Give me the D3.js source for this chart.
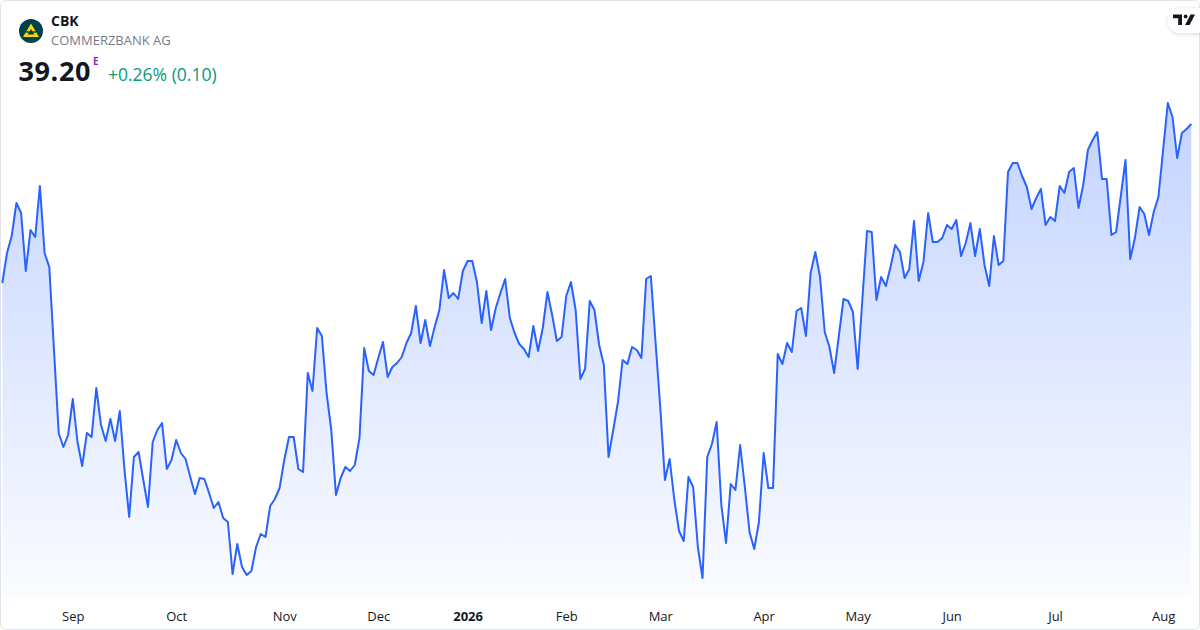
<!DOCTYPE html>
<html>
<head>
<meta charset="utf-8">
<script src="https://cdn.jsdelivr.net/npm/d3@7"></script>
<style>
  html, body { margin: 0; padding: 0; background: #fff; }
  svg { display: block; font-family: "Open Sans", "Noto Sans", sans-serif; }
</style>
</head>
<body>
<svg id="chart" width="1200" height="630"></svg>
<script>
// daily closes, CBK (Xetra), Aug 11 2025 .. Aug 11 2026
const closes = [
  36.02, 36.62, 36.96, 37.62, 37.42, 36.26, 37.08, 36.94, 37.96, 36.62,
  36.34, 34.68, 33.02, 32.74, 32.98, 33.70, 32.84, 32.36, 33.02, 32.94,
  33.92, 33.18, 32.86, 33.30, 32.86, 33.46, 32.28, 31.34, 32.54, 32.64,
  32.08, 31.54, 32.84, 33.08, 33.22, 32.30, 32.48, 32.88, 32.62, 32.50,
  32.14, 31.80, 32.12, 32.10, 31.82, 31.52, 31.64, 31.32, 31.24, 30.20,
  30.80, 30.34, 30.18, 30.26, 30.74, 31.00, 30.94, 31.56, 31.70, 31.92,
  32.48, 32.94, 32.94, 32.30, 32.24, 34.22, 33.86, 35.12, 34.96, 33.82,
  33.08, 31.78, 32.12, 32.34, 32.26, 32.38, 32.92, 34.72, 34.26, 34.18,
  34.52, 34.84, 34.14, 34.34, 34.42, 34.54, 34.82, 35.02, 35.56, 34.82,
  35.28, 34.76, 35.14, 35.48, 36.28, 35.72, 35.82, 35.70, 36.26, 36.46,
  36.46, 36.04, 35.22, 35.86, 35.08, 35.52, 35.82, 36.10, 35.32, 35.02,
  34.80, 34.70, 34.54, 35.16, 34.66, 35.12, 35.84, 35.38, 34.86, 34.94,
  35.76, 36.04, 35.48, 34.10, 34.30, 35.66, 35.48, 34.78, 34.38, 32.54,
  33.08, 33.64, 34.48, 34.40, 34.74, 34.68, 34.52, 36.10, 36.16, 34.84,
  33.54, 32.08, 32.50, 31.68, 31.06, 30.86, 32.14, 31.94, 30.74, 30.12,
  32.54, 32.80, 33.24, 31.58, 30.82, 32.00, 31.88, 32.78, 31.94, 31.04,
  30.70, 31.24, 32.62, 31.92, 31.92, 34.60, 34.40, 34.82, 34.64, 35.46,
  35.52, 34.96, 36.22, 36.64, 36.14, 35.04, 34.74, 34.22, 34.96, 35.70,
  35.66, 35.44, 34.30, 35.68, 37.06, 37.04, 35.68, 36.14, 35.96, 36.34,
  36.78, 36.64, 36.12, 36.30, 37.26, 36.06, 36.44, 37.42, 36.84, 36.84,
  36.92, 37.18, 37.10, 37.28, 36.56, 36.82, 37.22, 36.56, 37.10, 36.38,
  35.96, 36.96, 36.38, 36.46, 38.24, 38.42, 38.42, 38.16, 37.94, 37.50,
  37.72, 37.90, 37.18, 37.34, 37.26, 37.96, 37.82, 38.24, 38.32, 37.52,
  37.98, 38.68, 38.88, 39.04, 38.10, 38.10, 36.98, 37.04, 37.76, 38.48,
  36.50, 36.92, 37.54, 37.40, 36.98, 37.44, 37.74, 38.68, 39.62, 39.34,
  38.52, 39.02, 39.10, 39.20
];

// first trading day of each month (index into closes)
const monthTickIdx = [15, 37, 60, 80, 99, 120, 140, 162, 182, 202, 224, 247];
const monthTickLabels = ['Sep', 'Oct', 'Nov', 'Dec', '2026', 'Feb', 'Mar', 'Apr', 'May', 'Jun', 'Jul', 'Aug'];

const symbol = 'CBK';
const companyName = 'COMMERZBANK AG';
const lastPrice = closes[closes.length - 1];
const prevPrice = closes[closes.length - 2];

const W = 1200, H = 630;
const svg = d3.select('#chart');

// frame
svg.append('rect')
    .attr('x', 0.5).attr('y', 0.5)
    .attr('width', W - 1).attr('height', H - 1)
    .attr('rx', 6)
    .attr('fill', '#fff')
    .attr('stroke', '#e0e3eb');

const x = d3.scaleLinear().domain([0, closes.length - 1]).range([2.3, 1191.3]);
const y = d3.scaleLinear().domain(d3.extent(closes)).range([578, 103]);
const baseY = 598;

const defs = svg.append('defs');
const grad = defs.append('linearGradient')
    .attr('id', 'areaFill')
    .attr('gradientUnits', 'userSpaceOnUse')
    .attr('x1', 0).attr('x2', 0)
    .attr('y1', y.range()[1]).attr('y2', baseY);
grad.append('stop').attr('offset', 0).attr('stop-color', '#2962ff').attr('stop-opacity', 0.28);
grad.append('stop').attr('offset', 1).attr('stop-color', '#2962ff').attr('stop-opacity', 0.02);

const shadow = defs.append('filter').attr('id', 'pillShadow')
    .attr('x', '-50%').attr('y', '-50%').attr('width', '200%').attr('height', '200%');
shadow.append('feDropShadow')
    .attr('dx', 0).attr('dy', 1).attr('stdDeviation', 2)
    .attr('flood-color', '#000').attr('flood-opacity', 0.15);

const area = d3.area()
    .x((d, i) => x(i))
    .y0(baseY)
    .y1(d => y(d));

const line = d3.line()
    .x((d, i) => x(i))
    .y(d => y(d));

svg.append('path')
    .datum(closes)
    .attr('d', area)
    .attr('fill', 'url(#areaFill)');

svg.append('path')
    .datum(closes)
    .attr('d', line)
    .attr('fill', 'none')
    .attr('stroke', '#2962ff')
    .attr('stroke-width', 2)
    .attr('stroke-linejoin', 'round');

// month axis
const xAxis = d3.axisBottom(x)
    .tickValues(monthTickIdx)
    .tickFormat((d, i) => monthTickLabels[i])
    .tickSize(0)
    .tickPadding(0);

const axisG = svg.append('g')
    .attr('transform', 'translate(0,612)')
    .call(xAxis);
axisG.select('.domain').remove();
axisG.selectAll('text')
    .attr('font-family', '"Open Sans", "Noto Sans", sans-serif')
    .attr('font-size', 13)
    .attr('fill', '#131722')
    .attr('dy', '0.71em')
    .attr('font-weight', d => d === 99 ? 700 : 400);

// header
const logo = svg.append('g').attr('transform', 'translate(31,31)');
logo.append('circle').attr('r', 12).attr('fill', '#00414b');
logo.append('path')
    .attr('d', 'M0,-7.5 L8,6 L-8,6 Z M0,-2 L-3.4,3.6 L3.4,3.6 Z')
    .attr('fill', '#ffd700')
    .attr('fill-rule', 'evenodd');
logo.append('rect')
    .attr('x', -5).attr('y', 0.3).attr('width', 10).attr('height', 1.4)
    .attr('fill', '#00414b');

svg.append('text')
    .attr('x', 51).attr('y', 26)
    .attr('font-size', 14).attr('font-weight', 700)
    .attr('fill', '#131722')
    .text(symbol);

svg.append('text')
    .attr('x', 51).attr('y', 45)
    .attr('font-size', 13)
    .attr('fill', '#787b86')
    .text(companyName);

svg.append('text')
    .attr('x', 18.5).attr('y', 81)
    .attr('font-size', 27)
    .attr('font-weight', 700)
    .attr('letter-spacing', 0.6)
    .attr('fill', '#131722')
    .text(lastPrice.toFixed(2));

svg.append('text')
    .attr('x', 93).attr('y', 65)
    .attr('font-size', 10).attr('font-weight', 700)
    .attr('fill', '#9c27b0')
    .text('E');

const change = lastPrice - prevPrice;
svg.append('text')
    .attr('x', 108).attr('y', 81)
    .attr('font-size', 17.5)
    .attr('fill', '#089981')
    .text(`+${(change / prevPrice * 100).toFixed(2)}% (${change.toFixed(2)})`);

// TradingView badge
const badge = svg.append('g');
badge.append('rect')
    .attr('x', 1168).attr('y', 8)
    .attr('width', 46).attr('height', 25)
    .attr('rx', 12.5)
    .attr('fill', '#fff')
    .attr('filter', 'url(#pillShadow)');
badge.append('path')
    .attr('d', 'M1173,14.5 H1182 V25 H1178.2 V18.3 H1173 Z')
    .attr('fill', '#131722');
badge.append('circle')
    .attr('cx', 1185.6).attr('cy', 16.4).attr('r', 1.9)
    .attr('fill', '#131722');
badge.append('path')
    .attr('d', 'M1190.5,14.5 H1195 L1189.6,25 H1185.1 Z')
    .attr('fill', '#131722');
</script>
</body>
</html>
